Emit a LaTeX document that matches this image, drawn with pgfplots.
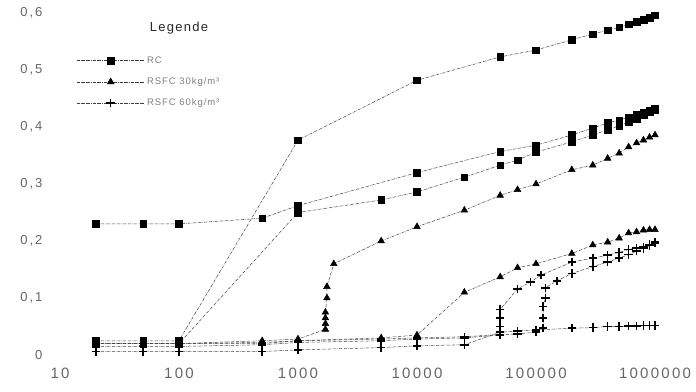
\documentclass[border=0pt]{standalone}
\usepackage{fontspec}
\setmainfont{Liberation Sans}
\newfontfamily\xtickfont[LetterSpace=15]{Liberation Sans}
\newfontfamily\ytickfont[LetterSpace=15]{Liberation Sans}
\newfontfamily\legfont[LetterSpace=10]{Liberation Sans}
\usepackage{pgfplots}
\pgfplotsset{compat=1.18}
\begin{document}
\begin{tikzpicture}
\path[use as bounding box] (-60pt,-36pt) rectangle (636pt,355pt);
\begin{axis}[
  at={(0,0)}, anchor=south west,
  scale only axis, width=595pt, height=342pt,
  xmode=log, xmin=10, xmax=1000000, ymin=0, ymax=0.6,
  axis line style={draw=none}, tick style={draw=none}, major tick length=0pt,
  xtick={10,100,1000,10000,100000,1000000},
  xticklabels={10,100,1000,10000,100000,1000000},
  ytick={0,0.1,0.2,0.3,0.4,0.5,0.6},
  yticklabels={0,{0,1},{0,2},{0,3},{0,4},{0,5},{0,6}},
  xticklabel style={font=\xtickfont\fontsize{15}{17}\selectfont, text=black!60, yshift=-9pt},
  yticklabel style={font=\ytickfont\fontsize{13}{15}\selectfont, text=black!60, anchor=east, xshift=-14pt},
  clip=false,
  every axis plot/.append style={densely dashdotted, line width=0.5pt, color=black!75},
  legend cell align=left,
  legend style={draw=none, fill=none, at={(0.022,0.885)}, anchor=north west,
    font=\legfont\fontsize{9.5}{11}\selectfont, text=black!50, row sep=9pt},
  legend image code/.code={\draw[mark repeat=2,mark phase=2,#1] plot coordinates {(0cm,0cm) (1.2cm,0cm) (2.4cm,0cm)};},
]
\node[font=\legfont\fontsize{13}{15}\selectfont, text=black!85] at (rel axis cs:0.20,0.955) {Legende};

% ---- RC (squares)
\addplot[mark=square*, mark size=3.3pt, mark options={solid, fill=black, draw=black}] coordinates {
 (20,0.025) (50,0.025) (100,0.025) (1000,0.377) (10000,0.482) (50000,0.523) (100000,0.535)
 (200000,0.553) (300000,0.563) (400000,0.570) (500000,0.575) (600000,0.580) (700000,0.585)
 (800000,0.588) (900000,0.592) (1000000,0.596)};
\addlegendentry{RC}
\addplot[forget plot, mark=square*, mark size=3.3pt, mark options={solid, fill=black, draw=black}] coordinates {
 (20,0.23) (50,0.23) (100,0.23) (500,0.24) (1000,0.262) (10000,0.32) (50000,0.357) (100000,0.368)
 (200000,0.386) (300000,0.398) (400000,0.407) (500000,0.412) (600000,0.417) (700000,0.421)
 (800000,0.425) (900000,0.429) (1000000,0.433)};
\addplot[forget plot, mark=square*, mark size=3.3pt, mark options={solid, fill=black, draw=black}] coordinates {
 (20,0.02) (50,0.02) (100,0.02) (1000,0.25) (5000,0.272) (10000,0.286) (25000,0.312) (50000,0.333)
 (70000,0.342) (100000,0.356) (200000,0.374) (300000,0.386) (400000,0.395) (500000,0.402)
 (600000,0.409) (700000,0.415) (800000,0.421) (900000,0.426) (1000000,0.43)};

% ---- RSFC 30 (triangles)
\addplot[mark=triangle*, mark size=3.8pt, mark options={solid, fill=black, draw=black}] coordinates {
 (20,0.02) (50,0.02) (100,0.02) (500,0.025) (1000,0.028) (1700,0.045) (1700,0.055) (1700,0.065)
 (1700,0.075) (1750,0.10) (1750,0.12) (2000,0.16) (5000,0.20) (10000,0.225) (25000,0.254)
 (50000,0.28) (70000,0.29) (100000,0.30) (200000,0.325) (300000,0.333) (400000,0.345)
 (500000,0.354) (600000,0.365) (700000,0.372) (800000,0.377) (900000,0.382) (1000000,0.386)};
\addlegendentry{RSFC 30kg/m³}
\addplot[forget plot, mark=triangle*, mark size=3.8pt, mark options={solid, fill=black, draw=black}] coordinates {
 (20,0.02) (50,0.02) (100,0.02) (500,0.022) (1000,0.025) (5000,0.03) (10000,0.035) (25000,0.11)
 (50000,0.137) (70000,0.153) (100000,0.16) (200000,0.178) (300000,0.193) (400000,0.198)
 (500000,0.205) (600000,0.214) (700000,0.216) (800000,0.219) (900000,0.22) (1000000,0.22)};

% ---- RSFC 60 (crosses)
\addplot[mark=+, mark size=4.2pt, mark options={solid, line width=1.6pt, draw=black}] coordinates {
 (20,0.006) (50,0.006) (100,0.006) (500,0.006) (1000,0.009) (5000,0.013) (10000,0.016) (25000,0.018)
 (50000,0.04) (70000,0.042) (100000,0.044) (200000,0.047) (300000,0.048) (400000,0.05)
 (500000,0.05) (600000,0.051) (700000,0.051) (800000,0.052) (900000,0.052) (1000000,0.052)};
\addlegendentry{RSFC 60kg/m³}
\addplot[forget plot, mark=+, mark size=4.2pt, mark options={solid, line width=1.6pt, draw=black}] coordinates {
 (20,0.02) (50,0.02) (100,0.02) (500,0.02) (1000,0.025) (5000,0.028) (10000,0.03) (25000,0.032)
 (50000,0.036) (50000,0.05) (50000,0.065) (50000,0.08) (70000,0.116) (90000,0.128) (110000,0.14)
 (200000,0.163) (300000,0.17) (400000,0.175) (500000,0.18) (600000,0.185) (700000,0.188)
 (800000,0.19) (900000,0.194) (1000000,0.198)};
\addplot[forget plot, mark=+, mark size=4.2pt, mark options={solid, line width=1.6pt, draw=black}] coordinates {
 (20,0.015) (50,0.015) (100,0.015) (500,0.018) (1000,0.022) (5000,0.025) (10000,0.028) (25000,0.03)
 (50000,0.035) (70000,0.037) (100000,0.04) (115000,0.047) (115000,0.065) (115000,0.085)
 (120000,0.10) (120000,0.118) (150000,0.13) (200000,0.143) (300000,0.155) (400000,0.163)
 (500000,0.17) (600000,0.176) (700000,0.182) (800000,0.187) (900000,0.192) (1000000,0.196)};
\end{axis}
\end{tikzpicture}
\end{document}
